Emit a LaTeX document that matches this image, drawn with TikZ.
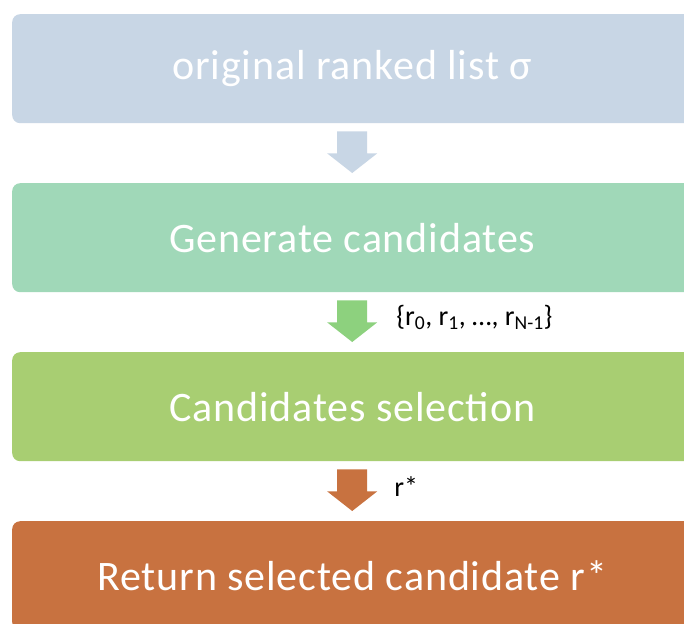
\documentclass[tikz,border=0pt]{standalone}
\usepackage{fontspec}
\setmainfont{Carlito}
\newfontfamily\stagefont[LetterSpace=2]{Carlito}
\usetikzlibrary{calc}
\definecolor{cblue}{HTML}{C8D6E5}
\definecolor{cmint}{HTML}{A0D8B8}
\definecolor{cgreen}{HTML}{A8CE72}
\definecolor{corange}{HTML}{C87240}
\definecolor{carrowgreen}{HTML}{8DD17E}
\newcommand\stagearrow[3]{%
  \fill[#3] ($(#1.south)+(-15,8)$) -- ($(#1.south)+(15,8)$) -- ($(#1.south)+(15,30)$)
    -- ($(#1.south)+(25,30)$) -- ($(#2.north)+(0,-10)$) -- ($(#1.south)+(-25,30)$)
    -- ($(#1.south)+(-15,30)$) -- cycle;}
\begin{document}
\begin{tikzpicture}[x=1pt,y=-1pt,
  stage/.style={rounded corners=8pt, minimum width=680pt, minimum height=109pt,
    inner sep=0pt, text=white, font=\stagefont\fontsize{42}{46}\selectfont, anchor=north west},
  lbl/.style={anchor=base west, inner sep=0pt, text=black, font=\fontsize{28}{32}\selectfont}]
\useasboundingbox (0,0) rectangle (684,623);
\clip (0,0) rectangle (684,623);
\fill[white] (0,0) rectangle (684,623);
\node[stage, fill=cblue] (b1) at (12,14) {original ranked list σ};
\node[stage, fill=cmint] (b2) at (12,183) {Generate candidates};
\node[stage, fill=cgreen] (b3) at (12,352) {Candidates selection};
\node[stage, fill=corange] (b4) at (12,521) {Return selected candidate r*};
\stagearrow{b1}{b2}{cblue}
\stagearrow{b2}{b3}{carrowgreen}
\stagearrow{b3}{b4}{corange}
\node[lbl] (l2) at ($(b2.south)+(44,33)$) {\{r\textsubscript{0}, r\textsubscript{1}, …, r\textsubscript{N-1}\}};
\node[lbl] (l3) at ($(b3.south)+(42,35)$) {r*};
\end{tikzpicture}
\end{document}
